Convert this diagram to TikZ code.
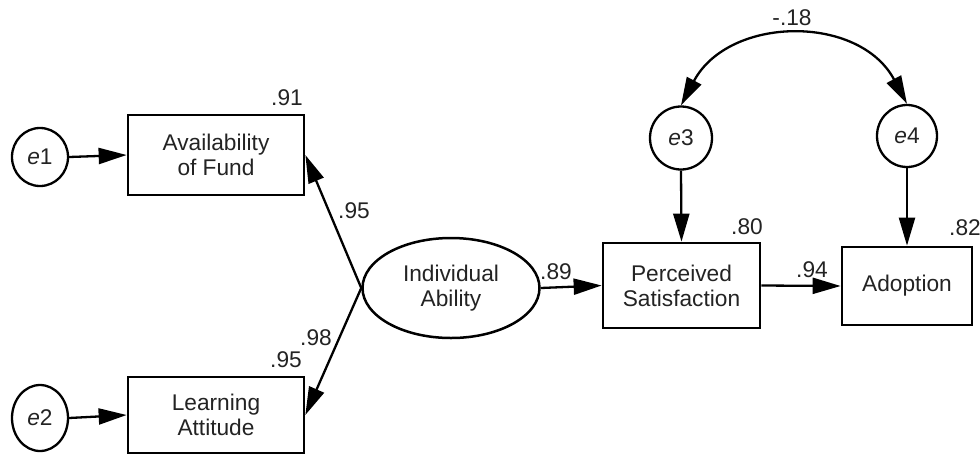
\documentclass[tikz,border=0pt]{standalone}
\usepackage{fontspec}
\setmainfont{Liberation Sans}
\usetikzlibrary{arrows.meta,shapes.geometric}
\definecolor{txt}{RGB}{35,35,35}
\begin{document}
\begin{tikzpicture}[x=1pt,y=-1pt,
  every node/.style={font=\fontsize{22.7}{25}\selectfont, text=txt},
  obs/.style={draw, line width=2.7pt, rectangle, inner sep=0pt, align=center},
  lat/.style={draw, line width=2.5pt, ellipse, inner sep=0pt, align=center},
  err/.style={draw, line width=2.3pt, ellipse, inner sep=0pt},
  path/.style={line width=2.3pt, -{Triangle[length=28pt,width=16pt]}},
  cov/.style={line width=2.3pt, {Triangle[length=28pt,width=16pt]}-{Triangle[length=28pt,width=16pt]}},
  lbl/.style={inner sep=0pt}]
\useasboundingbox (0,0) rectangle (980,456);
% nodes
\node[err, minimum width=56pt, minimum height=58pt] (e1) at (40,157) {\textit{e}1};
\node[err, minimum width=56pt, minimum height=66pt] (e2) at (40,418) {\textit{e}2};
\node[obs, minimum width=176pt, minimum height=80pt] (AF) at (216,155) {Availability\\of Fund};
\node[obs, minimum width=176pt, minimum height=76pt] (LA) at (216,415) {Learning\\Attitude};
\node[lat, minimum width=177pt, minimum height=100pt] (IA) at (451,288) {Individual\\Ability};
\node[obs, minimum width=157pt, minimum height=85pt] (PS) at (681.5,285.5) {Perceived\\Satisfaction};
\node[obs, minimum width=130pt, minimum height=78pt] (AD) at (907,286) {Adoption};
\node[err, minimum width=62pt, minimum height=63pt] (e3) at (681,138) {\textit{e}3};
\node[err, minimum width=60pt, minimum height=62pt] (e4) at (907,136) {\textit{e}4};
% labels
\node[lbl] (l91) at (287,98) {.91};
\node[lbl] (l95a) at (286,360) {.95};
\node[lbl] (l95b) at (354,211) {.95};
\node[lbl] (l98) at (316,338) {.98};
\node[lbl] (l89) at (556,272) {.89};
\node[lbl] (l80) at (747,227) {.80};
\node[lbl] (l82) at (965,228) {.82};
\node[lbl] (l94) at (812,270) {.94};
\node[lbl] (l18) at (792,18) {-.18};
% connectors
\draw[path] (e1.east) -- (AF.west);
\draw[path] (e2.east) -- (LA.west);
\draw[path] (IA.west) -- (AF.east);
\draw[path] (IA.west) -- (LA.east);
\draw[path] (IA.east) -- (PS.west);
\draw[path] (PS.east) -- (AD.west);
\draw[path] (e3.south) -- (PS.north);
\draw[path] (e4.south) -- (AD.north);
\draw[cov] (e3.north) to[out=62, in=118, looseness=1.15] (e4.north);
\end{tikzpicture}
\end{document}
